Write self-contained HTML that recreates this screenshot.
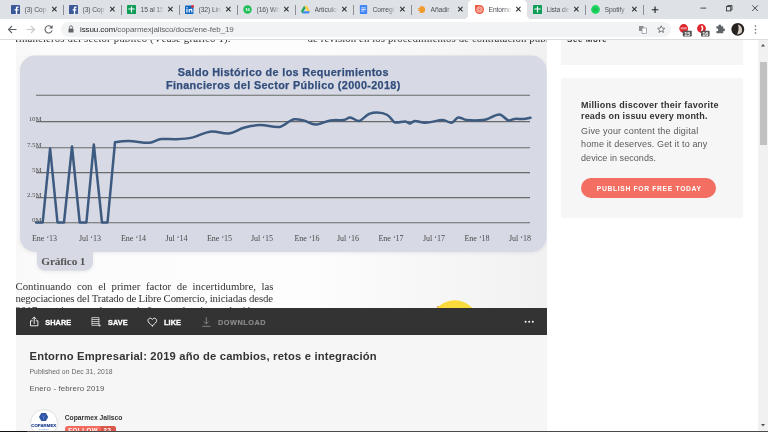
<!DOCTYPE html>
<html lang="es">
<head>
<meta charset="utf-8">
<title>Entorno Empresarial: 2019 año de cambios, retos e integración</title>
<style>
*{box-sizing:border-box;margin:0;padding:0}
html,body{width:768px;height:432px;overflow:hidden;background:#fff;font-family:"Liberation Sans",sans-serif;}
#root{position:relative;width:768px;height:432px;overflow:hidden;background:#fff}
.abs{position:absolute}
/* browser chrome */
#tabbar{left:0;top:0;width:768px;height:19px;background:#dee1e6}
#toolbar{left:0;top:19px;width:768px;height:20.5px;background:#fff;border-bottom:1px solid #dcdcdc}
.tab{position:absolute;top:0;height:20px;font-size:6px;color:#4d5156;white-space:nowrap}
.tab .fav{position:absolute;left:-0.8px;top:5px;width:9px;height:9px}
.tab .tt{position:absolute;left:12.5px;top:5.5px;width:23px;overflow:hidden;font-size:6.75px;line-height:8px;letter-spacing:-0.1px;-webkit-mask-image:linear-gradient(90deg,#000 65%,transparent 100%);mask-image:linear-gradient(90deg,#000 65%,transparent 100%)}
.tab .x{position:absolute;left:38.6px;top:5.6px;font-size:7.6px;line-height:8px;color:#2a2a2a;font-weight:normal;-webkit-text-stroke:0.2px #2a2a2a}
.tab .sep{position:absolute;left:51px;top:5px;width:1px;height:10px;background:#8b8e93}
#activetab{left:467.700px;top:0.300px;width:59.600px;height:19px;background:#fff;border-radius:4.500px 4.500px 0 0}
.flare{position:absolute;top:15px;width:4px;height:4px}
#urlpill{left:61px;top:22px;width:610px;height:15px;border-radius:8px;background:#f1f3f4}
#url{left:80px;top:24.5px;font-size:8px;line-height:10px;color:#202124;letter-spacing:-0.09px}
#url span{color:#5f6368}
/* page */
#doc{left:16px;top:40px;width:531px;height:268px;overflow:hidden;background:linear-gradient(90deg,#f8f8f8 0%,#fcfcfc 6%,#fdfdfd 55%,#f1f1f1 100%)}
#docin{position:absolute;left:0;top:-12px;width:545px;height:300px;filter:blur(0.35px)}#docin2{position:absolute;left:0;top:12px;width:545px;height:288px}
.serif{font-family:"Liberation Serif",serif;color:#222}
#bar{left:16px;top:308px;width:531px;height:27px;background:#333}
.bt{position:absolute;top:10.500px;font-size:7.3px;line-height:8px;font-weight:bold;color:#fff;letter-spacing:0.12px;white-space:nowrap;-webkit-text-stroke:0.3px #fff}
#below{left:16px;top:334.800px;width:531px;height:97.200px;background:#f6f6f6}
#side1{left:560.5px;top:40px;width:182.3px;height:24.5px;background:#f6f6f6;overflow:hidden}
#side2{left:560.5px;top:78px;width:182.3px;height:140.200px;background:#f6f6f6}
#scroll{left:758px;top:40px;width:10px;height:392px;background:#f1f1f1}
#thumb{left:759.700px;top:61.500px;width:7.200px;height:83.500px;background:#c1c1c1}
</style>
</head>
<body>
<div id="root">
  <!-- tab strip -->
  <div id="tabbar" class="abs"></div>
  <div id="activetab" class="abs"></div>
  <div class="flare" style="left:463.700px;background:radial-gradient(circle at 0 0,rgba(255,255,255,0) 3.700px,#fff 4.200px)"></div>
  <div class="flare" style="left:527.300px;background:radial-gradient(circle at 100% 0,rgba(255,255,255,0) 3.700px,#fff 4.200px)"></div>
  
  <div id="tabs">
<div class="tab" style="left:12px"><svg class="fav" viewBox="0 0 16 16"><rect width="16" height="16" rx="1.5" fill="#3b5998"/><path d="M11 16V9.8h2l.3-2.4H11V5.9c0-.7.2-1.2 1.2-1.2h1.2V2.6c-.2 0-1-.1-1.8-.1-1.8 0-3 1.100-3 3.100v1.800H6.500v2.400h2.100V16z" fill="#fff"/></svg><span class="tt">(3) Cop</span><span class="x">✕</span><i class="sep"></i></div>
<div class="tab" style="left:70px"><svg class="fav" viewBox="0 0 16 16"><rect width="16" height="16" rx="1.5" fill="#3b5998"/><path d="M11 16V9.8h2l.3-2.4H11V5.9c0-.7.2-1.2 1.2-1.2h1.2V2.6c-.2 0-1-.1-1.8-.1-1.8 0-3 1.100-3 3.100v1.800H6.500v2.400h2.100V16z" fill="#fff"/></svg><span class="tt">(3) Cop</span><span class="x">✕</span><i class="sep"></i></div>
<div class="tab" style="left:128px"><svg class="fav" viewBox="0 0 16 16"><rect width="16" height="16" rx="1.5" fill="#0f9d58"/><path d="M7 2.500h2V6h4.500v2H9v5.500H7V8H2.500V6H7z" fill="#fff"/></svg><span class="tt">15 al 15</span><span class="x">✕</span><i class="sep"></i></div>
<div class="tab" style="left:186px"><svg class="fav" viewBox="0 0 16 16"><rect y="1" width="15" height="15" rx="1.500" fill="#0a66c2"/><rect x="2.500" y="7" width="2" height="6.500" fill="#fff"/><circle cx="3.500" cy="4.800" r="1.200" fill="#fff"/><path d="M6.500 7h2v1c.5-.8 1.300-1.200 2.300-1.200 1.700 0 2.400 1.100 2.400 3v3.700h-2V10.200c0-.9-.3-1.500-1.200-1.500s-1.500.7-1.500 1.600v3.200h-2z" fill="#fff"/><circle cx="13.500" cy="2.500" r="2.500" fill="#e0352b"/></svg><span class="tt">(32) Lin</span><span class="x">✕</span><i class="sep"></i></div>
<div class="tab" style="left:244px"><svg class="fav" viewBox="0 0 16 16"><circle cx="8" cy="8" r="7.500" fill="#1ebe57"/><text x="8" y="10.800" font-family="Liberation Sans, sans-serif" font-size="7.500" font-weight="bold" fill="#fff" text-anchor="middle">16</text></svg><span class="tt">(16) Wh</span><span class="x">✕</span><i class="sep"></i></div>
<div class="tab" style="left:302px"><svg class="fav" viewBox="0 0 16 16"><path d="M5.500 1.500h5L16 11h-5z" fill="#ffcf48"/><path d="M5.500 1.500L0 11l2.500 4.300L8 5.800z" fill="#1da462"/><path d="M5 11h11l-2.500 4.300h-11z" fill="#4587f4"/></svg><span class="tt">Artículo</span><span class="x">✕</span><i class="sep"></i></div>
<div class="tab" style="left:360px"><svg class="fav" viewBox="0 0 16 16"><rect x="1.500" width="13" height="16" rx="1.500" fill="#4285f4"/><rect x="4" y="4.500" width="8" height="1.300" fill="#fff"/><rect x="4" y="7.300" width="8" height="1.300" fill="#fff"/><rect x="4" y="10.100" width="5.500" height="1.300" fill="#fff"/></svg><span class="tt">Corregi</span><span class="x">✕</span><i class="sep"></i></div>
<div class="tab" style="left:418px"><svg class="fav" viewBox="0 0 16 16"><path d="M5 2h4.500c3 0 5 2.500 5 6s-2 6-5 6H5v-3.500H2v-2h3v-1H2v-2h3z" fill="#f29a2e"/></svg><span class="tt">Añadir</span><span class="x">✕</span></div>
<div class="tab" style="left:476px"><svg class="fav" viewBox="0 0 16 16"><path d="M1 0h7a8 8 0 1 1-8 8V1a1 1 0 0 1 1-1z" fill="#f0593f"/><circle cx="8" cy="8" r="4.700" fill="none" stroke="#fff" stroke-width="1.300"/><circle cx="8" cy="8" r="2" fill="none" stroke="#fff" stroke-width="1.100"/></svg><span class="tt">Entorno</span><span class="x">✕</span></div>
<div class="tab" style="left:534px"><svg class="fav" viewBox="0 0 16 16"><rect width="16" height="16" rx="1.5" fill="#0f9d58"/><path d="M7 2.500h2V6h4.500v2H9v5.500H7V8H2.500V6H7z" fill="#fff"/></svg><span class="tt">Lista de</span><span class="x">✕</span><i class="sep"></i></div>
<div class="tab" style="left:592px"><svg class="fav" viewBox="0 0 16 16"><circle cx="8" cy="8" r="7.800" fill="#1ed760"/><path d="M4 6c2.800-.8 5.800-.5 8.200.8M4.500 8.400c2.300-.6 4.700-.4 6.700.7M5 10.600c1.800-.4 3.600-.3 5.100.5" stroke="#12a84a" stroke-width="1.100" fill="none" stroke-linecap="round"/></svg><span class="tt">Spotify</span><span class="x">✕</span><i class="sep"></i></div>

  <svg class="abs" style="left:648px;top:3px" width="116" height="14" viewBox="648 3 116 14">
    <path d="M651.800 9.700h6.500M655.050 6.450v6.500" stroke="#222" stroke-width="1.150" fill="none"/>
    <path d="M700.400 8.100h5.800" stroke="#333" stroke-width="0.850" fill="none"/>
    <rect x="726.500" y="6.600" width="4.300" height="4.300" fill="none" stroke="#333" stroke-width="0.850"/>
    <path d="M727.700 6.600v-1.100h4.300v4.300h-1.200" fill="none" stroke="#333" stroke-width="0.850"/>
    <path d="M752.200 5.300l5.700 5.700M757.900 5.300l-5.700 5.700" stroke="#333" stroke-width="0.850" fill="none"/>
  </svg>
  </div>

  <div id="toolbar" class="abs"></div>
  <div id="urlpill" class="abs"></div>
  <div id="url" class="abs">issuu.com<span>/coparmexjalisco/docs/ene-feb_19</span></div>
  <svg class="abs" style="left:0;top:20px" width="768" height="19" viewBox="0 20 768 19">
    <g fill="none" stroke="#5f6368" stroke-width="1.100">
      <path d="M16.500 29.500h-8M12 26l-3.500 3.500L12 33"/>
      <path d="M26.500 29.500h8M31 26l3.500 3.500L31 33" stroke="#c4c7ca"/>
      <path d="M51.300 27a3.600 3.600 0 1 0 .8 3.400"/>
    </g>
    <path d="M52.600 25v3.400h-3.400z" fill="#5f6368"/>
    <rect x="68.500" y="28.500" width="5" height="4" rx="0.500" fill="#5f6368"/>
    <path d="M69.500 28.500v-1.200a1.500 1.500 0 0 1 3 0v1.200" fill="none" stroke="#5f6368" stroke-width="0.900"/>
    <rect x="639" y="26" width="4.500" height="5" fill="#8a8f94"/><rect x="642" y="28" width="4.500" height="5.500" fill="#fff" stroke="#8a8f94" stroke-width="0.700"/>
    <path d="M661.200 25.800l1.050 2.300 2.500.250-1.900 1.650.600 2.450-2.250-1.350-2.250 1.350.600-2.450-1.900-1.650 2.500-.250z" fill="none" stroke="#5f6368" stroke-width="0.800" stroke-linejoin="round"/>
    <circle cx="683.700" cy="28.500" r="4.400" fill="#e0242b"/>
    <rect x="680.600" y="27.200" width="6.200" height="2.200" fill="#f6b9bb" opacity="0.7"/>
    <rect x="682.800" y="30.800" width="9" height="5.800" rx="0.800" fill="#555"/>
    <circle cx="701.500" cy="28.500" r="4.400" fill="#e0242b"/><path d="M701.300 26c1.700 1 1.700 3.600 0 5" stroke="#fff" stroke-width="1.500" fill="none"/>
    <rect x="701" y="30.800" width="8.600" height="5.800" rx="0.800" fill="#555"/>
    <path d="M716 26.500h2.200a1.300 1.300 0 1 1 2.400 0h2.200v2.300a1.300 1.300 0 1 1 0 2.400v2.300h-6.800v-2.300a1.300 1.300 0 1 0 0-2.400z" fill="#5f6368" transform="translate(0.400,-0.200)"/>
    <circle cx="737.800" cy="29.300" r="6.400" fill="#26221f"/><path d="M738 24.500c2.800 1 4.800 3.200 3.800 7.800-1.600 1.600-3.200 2.200-4.800 2.200 1.600-3.200 2.200-6.400 1-10z" fill="#d8cfc4"/>
    <circle cx="755.500" cy="26" r="0.800" fill="#5f6368"/><circle cx="755.500" cy="29.500" r="0.800" fill="#5f6368"/><circle cx="755.500" cy="33" r="0.800" fill="#5f6368"/>
    <g font-family="Liberation Sans, sans-serif" font-size="5.600" font-weight="bold" fill="#fff" text-anchor="middle"><text x="687.300" y="35.600">15</text><text x="705.300" y="35.600">16</text></g>
  </svg>

  <!-- document viewer -->
  <div id="doc" class="abs">
   <div id="docin"><div id="docin2">
    <div class="abs serif" style="left:-1px;top:-8.2px;font-size:10.8px;line-height:13px;white-space:nowrap;color:#333;letter-spacing:0.16px">financieros del sector público (Véase gráfico 1).</div>
    <div class="abs serif" style="left:291.5px;top:-8.2px;font-size:10.8px;line-height:13px;white-space:nowrap;color:#333;letter-spacing:0.1px">de revisión en los procedimientos de contratación públ</div>
    <svg class="abs" style="left:0;top:0" width="545" height="288" viewBox="16 40 545 288">
      <defs><filter id="sh" x="-5%" y="-10%" width="110%" height="125%"><feGaussianBlur stdDeviation="2"/></filter></defs>
      <path d="M35,55.500 H531.500 a15,15 0 0 1 15,15 V237 a15,15 0 0 1 -15,15 H93 V262.700 a8,8 0 0 1 -8,8 H45 a8,8 0 0 1 -8,-8 V252 H35 a15,15 0 0 1 -15,-15 V70.500 a15,15 0 0 1 15,-15z" fill="#000" opacity="0.07" filter="url(#sh)" transform="translate(0,1)"/>
      <path d="M35,55.500 H531.500 a15,15 0 0 1 15,15 V237 a15,15 0 0 1 -15,15 H93 V262.700 a8,8 0 0 1 -8,8 H45 a8,8 0 0 1 -8,-8 V252 H35 a15,15 0 0 1 -15,-15 V70.500 a15,15 0 0 1 15,-15z" fill="#d7dae4"/>
      <g stroke="#6a6a6a" stroke-width="1.050">
        <line x1="36" y1="95.200" x2="530" y2="95.200"/>
        <line x1="36" y1="121.600" x2="530" y2="121.600"/>
        <line x1="36" y1="147.700" x2="530" y2="147.700"/>
        <line x1="36" y1="172.600" x2="530" y2="172.600"/>
        <line x1="36" y1="197.600" x2="530" y2="197.600"/>
        <line x1="36" y1="222.700" x2="530" y2="222.700"/>
      </g>
      <path fill="none" stroke="#3d5a80" stroke-width="2.500" stroke-linejoin="round" stroke-linecap="round"
        d="M36,222.500 L42.700,222.500 L50.100,148.500 L57.500,222.500 L64,222.500 L72,146.500 L79.700,222.500 L86.400,222.500 L93.800,144.500 L102,222.500 L107.500,222.500 L115,142.300
           C120,141.5 124,141 128.4,141 C136,141 142,143 149.4,142.8 C154,142.6 157,139 161.4,138.9 C167,138.8 171,139.4 176.4,139.2
           C182,139 188,138.5 192.8,137.4 C200,135.5 205,131.6 212.3,131.4 C218,131.3 223,134 228.7,133.5 C234,133 238,129.5 243.7,127.8
           C249,126.2 254,125.2 260.2,125.1 C267,125 273,127.6 279.6,126.9 C285,126.3 289,119.6 294.6,119.2 C298,119 300,119.6 303.6,120.4
           C308,121.5 311,124.6 315.6,124.6 C320,124.6 325,121.2 330.5,120.4 C335,119.8 340,120.4 344,120 C346,119.8 348,117.4 350,117.4
           C353,117.4 356,121.2 359,121 C362,120.8 365.5,115.2 369.4,113.8 C372,112.8 374.5,112.6 377,112.6 C381,112.6 384.5,113.4 387.4,115
           C391,117 392.5,122 395,122.5 C398.5,123.1 402,121.4 405.3,121.6 C407.5,121.8 408.5,123.6 410,123.4 C412,123.1 413,121 415.2,121
           C418,121 421,122.7 424.8,122.8 C431,123 437,120 442.8,120 C446,120 449,123.2 451.7,122.8 C454,122.4 456,117.6 458.3,117.4
           C461,117.2 463.5,119.6 466.7,120 C472,120.6 478,120.6 483.2,120 C489,119.3 495,114.2 499.6,114.4 C503,114.6 505.5,120 508.6,120.4
           C511,120.7 512.5,119 514.6,118.9 C518,118.7 520.5,119.1 523.6,118.9 C526,118.7 528.5,118.2 530.5,117.7"/>
      <g font-family="Liberation Sans, sans-serif" font-weight="bold" font-size="10.800" fill="#334e7c" stroke="#334e7c" stroke-width="0.250" text-anchor="middle" letter-spacing="0.36">
        <text x="283.300" y="76">Saldo Histórico de los Requerimientos</text>
        <text x="283.300" y="89">Financieros del Sector Público (2000-2018)</text>
      </g>
      <g font-family="Liberation Serif, serif" font-size="6.800" fill="#505050" text-anchor="end">
        <text x="41.500" y="121">10M</text>
        <text x="41.500" y="147">7.5M</text>
        <text x="41.500" y="172">5M</text>
        <text x="41.500" y="197">2.5M</text>
        <text x="41.500" y="222">0M</text>
      </g>
      <g font-family="Liberation Serif, serif" font-size="8" fill="#4a4a4a" text-anchor="middle">
        <text x="44.500" y="240.500">Ene ‘13</text>
        <text x="90" y="240.500">Jul ‘13</text>
        <text x="133.500" y="240.500">Ene ‘14</text>
        <text x="176.500" y="240.500">Jul ‘14</text>
        <text x="219.500" y="240.500">Ene ‘15</text>
        <text x="262" y="240.500">Jul ‘15</text>
        <text x="307" y="240.500">Ene ‘16</text>
        <text x="348" y="240.500">Jul ‘16</text>
        <text x="391" y="240.500">Ene ‘17</text>
        <text x="434" y="240.500">Jul ‘17</text>
        <text x="477" y="240.500">Ene ‘18</text>
        <text x="520" y="240.500">Jul ‘18</text>
      </g>
      <text x="63.300" y="265" font-family="Liberation Serif, serif" font-weight="bold" font-size="11.300" fill="#555" text-anchor="middle" letter-spacing="-0.18">Gráfico 1</text>
      <circle cx="438.600" cy="308" r="2" fill="#e8756c"/><ellipse cx="454.700" cy="324.600" rx="24.600" ry="24.300" fill="#f9dc3c"/>
    </svg>
    <div class="abs serif" style="left:-0.5px;top:240px;width:258px;font-size:10.8px;line-height:12px;color:#333;white-space:nowrap;">
      <div style="display:flex;justify-content:space-between;"><span>Continuando</span><span>con</span><span>el</span><span>primer</span><span>factor</span><span>de</span><span>incertidumbre,</span><span>las</span></div>
      <div style="letter-spacing:-0.18px">negociaciones del Tratado de Libre Comercio, iniciadas desde</div>
      <div>2017, continuaron durante el año pasado, sin resolución</div>
    </div>
   </div></div>
  </div>

  <!-- dark action bar -->
  <div id="bar" class="abs">
    <svg class="abs" style="left:0;top:0" width="531" height="27" viewBox="16 308 531 27">
      <g fill="none" stroke="#fff" stroke-width="0.9" stroke-linecap="round" stroke-linejoin="round">
        <path d="M32.200 320.800h-1.700v5h7.400v-5h-1.700M34.200 323.500v-6.200M32.300 319l1.900-1.900 1.900 1.900"/>
        <path d="M92.300 317.600h6.600v7.800h-6.600zM92.300 319.500h6.600M92.300 321.500h6.600M92.300 323.500h6.600" stroke="#ddd" stroke-width="0.800"/>
        <path d="M152.300 325.800c-2.600-2-4.300-3.500-4.300-5.300 0-1.300 1-2.300 2.200-2.300.9 0 1.700.5 2.100 1.300.4-.8 1.200-1.300 2.100-1.300 1.200 0 2.200 1 2.200 2.300 0 1.800-1.700 3.300-4.300 5.300z"/>
        <path d="M206.300 317.500v6.300M204.200 321.800l2.100 2.100 2.100-2.100M202.600 326.300h7.400" stroke="#8a8a8a"/>
      </g>
      <circle cx="99.600" cy="325.600" r="1" fill="#ddd"/>
      <circle cx="525.600" cy="321.800" r="0.950" fill="#fff"/><circle cx="529.200" cy="321.800" r="0.950" fill="#fff"/><circle cx="532.800" cy="321.800" r="0.950" fill="#fff"/>
    </svg>
    <div class="bt" style="left:29.2px">SHARE</div>
    <div class="bt" style="left:91.900px">SAVE</div>
    <div class="bt" style="left:148px">LIKE</div>
    <div class="bt" style="left:202px;color:#8c8c8c;letter-spacing:0.55px;-webkit-text-stroke:0.15px #8c8c8c">DOWNLOAD</div>
  </div>

  <!-- info -->
  <div id="below" class="abs">
    <div class="abs" style="left:13.5px;top:15px;font-size:11.2px;line-height:13px;font-weight:bold;color:#333;white-space:nowrap;letter-spacing:0.19px">Entorno Empresarial: 2019 año de cambios, retos e integración</div>
    <div class="abs" style="left:13.5px;top:33.200px;font-size:6.75px;line-height:8px;color:#666;white-space:nowrap;letter-spacing:0.08px">Published on Dec 31, 2018</div>
    <div class="abs" style="left:13.5px;top:48.800px;font-size:7.87px;line-height:10px;color:#555;white-space:nowrap;letter-spacing:0.12px">Enero - febrero 2019</div>
    <div class="abs" style="left:13.700px;top:73.800px;width:28.200px;height:28.200px;border-radius:50%;background:#fff;border:0.8px solid #e0e0e0"></div>
    <svg class="abs" style="left:23.400px;top:78.200px" width="9.200" height="8" viewBox="0 0 9.200 8"><path d="M2.300 0h4.600l2.300 4-2.300 4H2.300L0 4z" fill="#2f55a4"/><path d="M3 2.500l1.600 1.500L6.200 2.500M4.600 4v2.500" stroke="#7d9ad6" stroke-width="0.600" fill="none"/></svg>
    <div class="abs" style="left:15.300px;top:88.300px;width:25px;text-align:center;font-size:4.3px;line-height:5.500px;font-weight:bold;color:#1d3f8f;letter-spacing:0.05px;-webkit-text-stroke:0.15px #1d3f8f">COPARMEX</div>
    <div class="abs" style="left:15.300px;top:93px;width:25px;text-align:center;font-size:2.2px;line-height:3px;font-weight:bold;color:#6d9be0;letter-spacing:0.1px">JALISCO</div>
    <div class="abs" style="left:48.700px;top:78px;font-size:6.75px;line-height:9px;font-weight:bold;color:#333;white-space:nowrap">Coparmex Jalisco</div>
    <div class="abs" style="left:48.700px;top:91.300px;width:51px;height:12px;border-radius:3px;background:#f26b5e;overflow:hidden;color:#fff;font-size:6px;font-weight:bold;line-height:9.500px;padding-left:3.600px;letter-spacing:0.62px;white-space:nowrap"><div class="abs" style="left:36.300px;top:0;width:15px;height:12px;background:#d9574b"></div><span style="position:relative">FOLLOW</span><span style="position:relative;margin-left:5.500px">23</span></div>
  </div>

  <!-- sidebar -->
  <div id="side1" class="abs"><div class="abs" style="left:6.500px;top:-5.100px;font-size:7.9px;font-weight:bold;color:#333;line-height:10px;letter-spacing:0.66px;white-space:nowrap">See More</div></div>
  <div id="side2" class="abs">
    <div class="abs" style="left:20.500px;top:21.800px;font-size:9px;line-height:11.100px;font-weight:bold;color:#333;white-space:nowrap;letter-spacing:0.24px">Millions discover their favorite<br><span style="letter-spacing:0.17px">reads on issuu every month.</span></div>
    <div class="abs" style="left:20.500px;top:47.100px;font-size:9px;line-height:13.300px;color:#5a5a5a;white-space:nowrap;letter-spacing:0.2px">Give your content the digital<br><span style="letter-spacing:0.14px">home it deserves. Get it to any</span><br><span style="letter-spacing:0.06px">device in seconds.</span></div>
    <div class="abs" style="left:20.800px;top:100px;width:135.200px;height:20.300px;border-radius:10.200px;background:#f26f61;color:#fff;font-size:6.75px;line-height:21.800px;font-weight:bold;text-align:center;letter-spacing:0.66px;padding-left:0.66px;white-space:nowrap;overflow:hidden">PUBLISH FOR FREE TODAY</div>
  </div>

  <!-- scrollbar -->
  <div id="scroll" class="abs"></div>
  <div id="thumb" class="abs"></div>
  <svg class="abs" style="left:758px;top:40px" width="10" height="392" viewBox="0 0 10 392"><path d="M3 6.500h4L5 4z" fill="#505050"/><path d="M3 384h4l-2 2.500z" fill="#505050"/></svg>
  <div class="abs" style="left:0;top:430.600px;width:768px;height:1.400px;background:#4a4a4a"></div>
  <div class="abs" style="left:0;top:430.600px;width:27px;height:1.400px;background:#111"></div>
</div>
</body>
</html>
